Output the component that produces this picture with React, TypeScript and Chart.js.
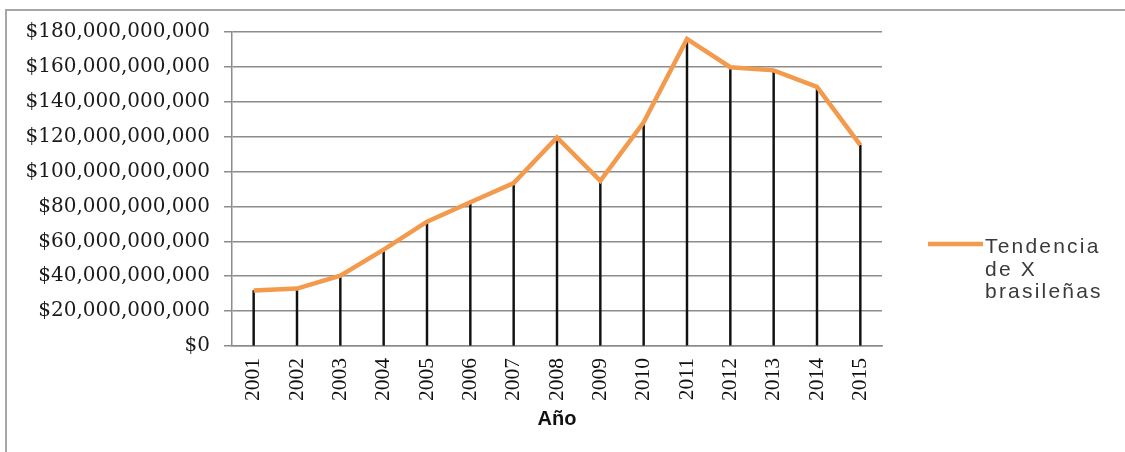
import { useEffect, useRef } from "react";
import { Chart, registerables } from "chart.js";

Chart.register(...registerables);

// Years on the category axis
const years = [
  "2001", "2002", "2003", "2004", "2005", "2006", "2007", "2008",
  "2009", "2010", "2011", "2012", "2013", "2014", "2015",
];

// Yearly totals in US dollars
const exportValues = [
  31.8e9, 32.9e9, 40.3e9, 55.2e9, 71.3e9, 82.4e9, 93.4e9, 119.6e9,
  94.7e9, 128.2e9, 176.0e9, 159.8e9, 158.0e9, 148.5e9, 115.2e9,
];

// Value axis range and step
const yMin = 0;
const yMax = 180e9;
const yStep = 20e9;

const legendLines = ["Tendencia", "de X", "brasileñas"];
const xAxisTitle = "Año";

const ORANGE = "#F39A4C";
const GRID = "#8c8c8c";

const formatDollars = (v: number) => "$" + Math.round(v).toLocaleString("en-US");

// Draws the series key to the right of the plot, with wrapped text lines
const sideLegend = {
  id: "sideLegend",
  afterDraw(chart: Chart) {
    const ctx = chart.ctx;
    const x0 = chart.chartArea.right + 46;
    const y0 = 244;
    ctx.save();
    ctx.strokeStyle = ORANGE;
    ctx.lineWidth = 4.5;
    ctx.beginPath();
    ctx.moveTo(x0, y0);
    ctx.lineTo(x0 + 55, y0);
    ctx.stroke();
    ctx.fillStyle = "#3a3a3a";
    ctx.font = "21px 'Liberation Sans', Arial, sans-serif";
    (ctx as any).letterSpacing = "2.2px";
    ctx.textBaseline = "alphabetic";
    ctx.textAlign = "left";
    legendLines.forEach((line, i) => {
      ctx.fillText(line, x0 + 57, 253 + i * 22.5);
    });
    ctx.restore();
  },
};

export default function App() {
  const canvasRef = useRef<HTMLCanvasElement | null>(null);

  useEffect(() => {
    const canvas = canvasRef.current;
    if (!canvas) return;
    const chart = new Chart(canvas, {
      type: "bar",
      data: {
        labels: years,
        datasets: [
          {
            type: "line",
            label: legendLines.join(" "),
            data: exportValues,
            borderColor: ORANGE,
            backgroundColor: ORANGE,
            borderWidth: 4.5,
            pointRadius: 0,
            tension: 0,
            order: 0,
          },
          {
            // drop lines from each point down to the axis
            type: "bar",
            label: "drop",
            data: exportValues,
            backgroundColor: "#111111",
            barThickness: 1.8,
            order: 1,
          },
        ],
      },
      options: {
        responsive: false,
        animation: false,
        layout: {
          padding: { top: 32, left: 12, right: 243, bottom: 21 },
        },
        plugins: {
          legend: { display: false },
          tooltip: { enabled: false },
        },
        scales: {
          x: {
            offset: true,
            grid: { display: false },
            border: { display: true, color: GRID, width: 1.5 },
            ticks: {
              minRotation: 90,
              maxRotation: 90,
              padding: 4,
              color: "#111111",
              font: { family: "'Liberation Serif', serif", size: 21.5 },
            },
            title: {
              display: true,
              text: xAxisTitle,
              color: "#111111",
              padding: { top: 0, bottom: 0 },
              font: { family: "'Liberation Sans', Arial, sans-serif", size: 20, weight: "bold" },
            },
            afterFit(scale: any) {
              scale.height = 431 - 346;
            },
          },
          y: {
            min: yMin,
            max: yMax,
            grid: {
              color: GRID,
              lineWidth: 1.5,
              tickLength: 8,
              drawTicks: true,
            },
            border: { display: true, color: GRID, width: 1.5 },
            ticks: {
              stepSize: yStep,
              padding: 14,
              color: "#1a1a1a",
              font: { family: "'DejaVu Serif', serif", size: 20 },
              callback: (v: any) => formatDollars(Number(v)),
            },
            afterFit(scale: any) {
              scale.width = 232 - 12;
            },
          },
        },
      },
      plugins: [sideLegend],
    });
    return () => chart.destroy();
  }, []);

  return (
    <div style={{ position: "fixed", left: 0, top: 0, width: 1125, height: 452, background: "#fff", overflow: "hidden" }}>
      <div
        style={{
          position: "absolute",
          left: 5,
          top: 9,
          width: 1130,
          height: 470,
          borderTop: "2px solid #a6a6a6",
          borderLeft: "2px solid #a6a6a6",
          boxSizing: "border-box",
        }}
      />
      <canvas ref={canvasRef} width={1125} height={452} style={{ position: "absolute", left: 0, top: 0 }} />
    </div>
  );
}
